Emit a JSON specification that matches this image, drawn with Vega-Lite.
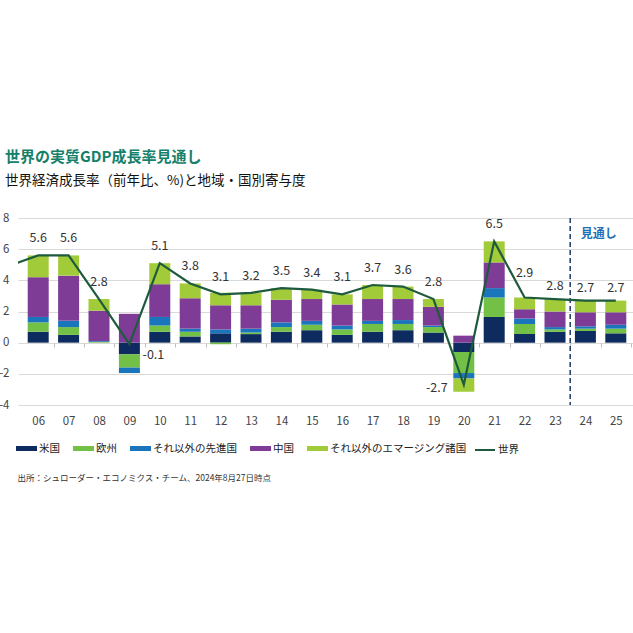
{
  "$schema": "https://vega.github.io/schema/vega-lite/v6.json",
  "width": 618,
  "height": 187,
  "autosize": {"type": "none"},
  "padding": {"left": 18, "top": 218, "right": 0, "bottom": 228},
  "background": "white",
  "config": {
    "view": {"stroke": null},
    "font": "Noto Sans CJK JP",
    "locale": {"number": {"decimal": ".", "thousands": ",", "grouping": [3], "currency": ["$", ""], "minus": "-"}}
  },
  "title": {
    "text": "世界の実質GDP成長率見通し",
    "subtitle": "世界経済成長率（前年比、%)と地域・国別寄与度",
    "anchor": "start",
    "frame": "group",
    "dx": -13,
    "offset": 25,
    "fontSize": 15,
    "fontWeight": "bold",
    "color": "#15806a",
    "subtitleFontSize": 13.5,
    "subtitleColor": "#111111",
    "subtitlePadding": 9,
    "font": "Noto Sans CJK JP",
    "subtitleFont": "Noto Sans CJK JP"
  },
  "datasets": {
    "parts": [
      {"year": 2006, "米国": 0.7, "欧州": 0.6, "それ以外の先進国": 0.35, "中国": 2.55, "それ以外のエマージング諸国": 1.4},
      {"year": 2007, "米国": 0.5, "欧州": 0.5, "それ以外の先進国": 0.4, "中国": 2.9, "それ以外のエマージング諸国": 1.3},
      {"year": 2008, "米国": 0.0, "欧州": 0.05, "それ以外の先進国": 0.05, "中国": 1.95, "それ以外のエマージング諸国": 0.75},
      {"year": 2009, "米国": -0.75, "欧州": -0.85, "それ以外の先進国": -0.35, "中国": 1.85, "それ以外のエマージング諸国": 0.0},
      {"year": 2010, "米国": 0.7, "欧州": 0.4, "それ以外の先進国": 0.55, "中国": 2.1, "それ以外のエマージング諸国": 1.35},
      {"year": 2011, "米国": 0.4, "欧州": 0.3, "それ以外の先進国": 0.2, "中国": 1.95, "それ以外のエマージング諸国": 0.95},
      {"year": 2012, "米国": 0.6, "欧州": -0.1, "それ以外の先進国": 0.25, "中国": 1.55, "それ以外のエマージング諸国": 0.8},
      {"year": 2013, "米国": 0.55, "欧州": 0.1, "それ以外の先進国": 0.25, "中国": 1.5, "それ以外のエマージング諸国": 0.8},
      {"year": 2014, "米国": 0.7, "欧州": 0.3, "それ以外の先進国": 0.3, "中国": 1.45, "それ以外のエマージング諸国": 0.75},
      {"year": 2015, "米国": 0.8, "欧州": 0.35, "それ以外の先進国": 0.25, "中国": 1.4, "それ以外のエマージング諸国": 0.6},
      {"year": 2016, "米国": 0.5, "欧州": 0.35, "それ以外の先進国": 0.25, "中国": 1.35, "それ以外のエマージング諸国": 0.65},
      {"year": 2017, "米国": 0.7, "欧州": 0.5, "それ以外の先進国": 0.2, "中国": 1.4, "それ以外のエマージング諸国": 0.9},
      {"year": 2018, "米国": 0.8, "欧州": 0.4, "それ以外の先進国": 0.25, "中国": 1.35, "それ以外のエマージング諸国": 0.8},
      {"year": 2019, "米国": 0.65, "欧州": 0.35, "それ以外の先進国": 0.1, "中国": 1.2, "それ以外のエマージング諸国": 0.5},
      {"year": 2020, "米国": -0.6, "欧州": -1.35, "それ以外の先進国": -0.35, "中国": 0.45, "それ以外のエマージング諸国": -0.85},
      {"year": 2021, "米国": 1.65, "欧州": 1.25, "それ以外の先進国": 0.6, "中国": 1.65, "それ以外のエマージング諸国": 1.35},
      {"year": 2022, "米国": 0.55, "欧州": 0.65, "それ以外の先進国": 0.35, "中国": 0.6, "それ以外のエマージング諸国": 0.75},
      {"year": 2023, "米国": 0.7, "欧州": 0.15, "それ以外の先進国": 0.15, "中国": 1.0, "それ以外のエマージング諸国": 0.8},
      {"year": 2024, "米国": 0.75, "欧州": 0.15, "それ以外の先進国": 0.15, "中国": 0.9, "それ以外のエマージング諸国": 0.75},
      {"year": 2025, "米国": 0.6, "欧州": 0.3, "それ以外の先進国": 0.25, "中国": 0.8, "それ以外のエマージング諸国": 0.75}
    ],
    "world": [
      {"year": 2005, "world": 4.9},
      {"year": 2006, "world": 5.6},
      {"year": 2007, "world": 5.6},
      {"year": 2008, "world": 2.8},
      {"year": 2009, "world": -0.1},
      {"year": 2010, "world": 5.1},
      {"year": 2011, "world": 3.8},
      {"year": 2012, "world": 3.1},
      {"year": 2013, "world": 3.2},
      {"year": 2014, "world": 3.5},
      {"year": 2015, "world": 3.4},
      {"year": 2016, "world": 3.1},
      {"year": 2017, "world": 3.7},
      {"year": 2018, "world": 3.6},
      {"year": 2019, "world": 2.8},
      {"year": 2020, "world": -2.7},
      {"year": 2021, "world": 6.5},
      {"year": 2022, "world": 2.9},
      {"year": 2023, "world": 2.8},
      {"year": 2024, "world": 2.7},
      {"year": 2025, "world": 2.7}
    ]
  },
  "layer": [
    {
      "data": {"name": "parts"},
      "transform": [
        {"fold": ["米国", "欧州", "それ以外の先進国", "中国", "それ以外のエマージング諸国"], "as": ["region", "value"]},
        {"stack": "value", "groupby": ["year"], "as": ["v0", "v1"]}
      ],
      "mark": {"type": "bar", "width": 21, "orient": "vertical"},
      "encoding": {
        "x": {
          "field": "year", "type": "quantitative",
          "scale": {"domain": [2005.5, 2025.5], "nice": false, "zero": false},
          "axis": {
            "values": [2006, 2007, 2008, 2009, 2010, 2011, 2012, 2013, 2014, 2015, 2016, 2017, 2018, 2019, 2020, 2021, 2022, 2023, 2024, 2025],
            "tickCount": 20,
            "format": "d",
            "labelExpr": "substring(datum.label, 2)",
            "tickOffset": 15.45,
            "labelOffset": -15.45,
            "tickSize": 4,
            "tickColor": "#bfbfbf",
            "domain": false,
            "grid": false,
            "offset": -62,
            "labelPadding": 68,
            "labelOverlap": false,
            "labelFlush": false,
            "labelFontSize": 11.5,
            "labelColor": "#444444",
            "title": "出所：シュローダー・エコノミクス・チーム、2024年8月27日時点",
            "titleX": -1,
            "titleY": 134,
            "titleAlign": "left",
            "titleAnchor": "start",
            "titleBaseline": "middle",
            "titleAngle": 0,
            "titleFontWeight": "normal",
            "titleFontSize": 8.5,
            "titleColor": "#333333"
          }
        },
        "y": {
          "field": "v0", "type": "quantitative",
          "scale": {"domain": [-4, 8], "nice": false},
          "axis": {
            "values": [-4, -2, 0, 2, 4, 6, 8],
            "tickCount": 7,
            "grid": true,
            "gridColor": "#d9d9d9",
            "domain": false,
            "ticks": false,
            "labelPadding": 9,
            "labelOverlap": false,
            "labelFlush": false,
            "labelFontSize": 11.5,
            "labelColor": "#444444",
            "title": null
          }
        },
        "y2": {"field": "v1"},
        "color": {
          "field": "region", "type": "nominal",
          "scale": {
            "domain": ["米国", "欧州", "それ以外の先進国", "中国", "それ以外のエマージング諸国"],
            "range": ["#0d2b5e", "#72c045", "#1b75bc", "#7e3c96", "#a2cb3a"]
          },
          "legend": {
            "orient": "none",
            "legendX": -2,
            "legendY": 220,
            "direction": "horizontal",
            "title": null,
            "symbolType": "M-1,-0.24L1,-0.24L1,0.24L-1,0.24Z",
            "symbolSize": 441,
            "symbolStrokeWidth": 0,
            "labelFontSize": 10.5,
            "labelColor": "#222222",
            "labelOffset": 2,
            "columnPadding": 13,
            "padding": 0
          }
        }
      }
    },
    {
      "data": {"values": [{}]},
      "mark": {"type": "rule", "strokeDash": [5, 3], "color": "#1f3a68", "strokeWidth": 1.5},
      "encoding": {"x": {"datum": 2023.5, "type": "quantitative"}}
    },
    {
      "data": {"name": "world"},
      "mark": {"type": "line", "clip": true, "strokeWidth": 2.2},
      "encoding": {
        "x": {"field": "year", "type": "quantitative"},
        "y": {"field": "world", "type": "quantitative"},
        "stroke": {
          "datum": "世界", "type": "nominal",
          "scale": {"domain": ["世界"], "range": ["#1e5b3d"]},
          "legend": {
            "orient": "none",
            "legendX": 456,
            "legendY": 221,
            "title": null,
            "symbolType": "stroke",
            "symbolSize": 400,
            "symbolStrokeWidth": 2,
            "labelFontSize": 10.5,
            "labelColor": "#222222",
            "labelOffset": 2,
            "padding": 0
          }
        }
      }
    },
    {
      "data": {"name": "world"},
      "transform": [{"filter": "datum.year >= 2006 && datum.year <= 2021 && datum.year != 2009 && datum.year != 2020"}],
      "mark": {"type": "text", "dy": -17, "fontSize": 12.5, "color": "#333333", "baseline": "middle"},
      "encoding": {
        "x": {"field": "year", "type": "quantitative"},
        "y": {"field": "world", "type": "quantitative"},
        "text": {"field": "world", "type": "quantitative", "format": ".1f"}
      }
    },
    {
      "data": {"name": "world"},
      "transform": [{"filter": "datum.year == 2022"}],
      "mark": {"type": "text", "dy": -24, "fontSize": 12.5, "color": "#333333", "baseline": "middle"},
      "encoding": {
        "x": {"field": "year", "type": "quantitative"},
        "y": {"field": "world", "type": "quantitative"},
        "text": {"field": "world", "type": "quantitative", "format": ".1f"}
      }
    },
    {
      "data": {"name": "world"},
      "transform": [{"filter": "datum.year >= 2023"}],
      "mark": {"type": "text", "dy": -13, "fontSize": 12.5, "color": "#333333", "baseline": "middle"},
      "encoding": {
        "x": {"field": "year", "type": "quantitative"},
        "y": {"field": "world", "type": "quantitative"},
        "text": {"field": "world", "type": "quantitative", "format": ".1f"}
      }
    },
    {
      "data": {"name": "world"},
      "transform": [{"filter": "datum.year == 2009"}],
      "mark": {"type": "text", "dx": 24, "dy": 11, "fontSize": 12.5, "color": "#333333", "baseline": "middle"},
      "encoding": {
        "x": {"field": "year", "type": "quantitative"},
        "y": {"field": "world", "type": "quantitative"},
        "text": {"field": "world", "type": "quantitative", "format": ".1f"}
      }
    },
    {
      "data": {"name": "world"},
      "transform": [{"filter": "datum.year == 2020"}],
      "mark": {"type": "text", "dx": -27, "dy": 3, "fontSize": 12.5, "color": "#333333", "baseline": "middle"},
      "encoding": {
        "x": {"field": "year", "type": "quantitative"},
        "y": {"field": "world", "type": "quantitative"},
        "text": {"field": "world", "type": "quantitative", "format": ".1f"}
      }
    },
    {
      "data": {"values": [{}]},
      "mark": {"type": "text", "align": "left", "baseline": "middle", "fontSize": 12, "fontWeight": "bold", "color": "#1f6fb8"},
      "encoding": {
        "x": {"datum": 2023.85, "type": "quantitative"},
        "y": {"datum": 7, "type": "quantitative"},
        "text": {"value": "見通し"}
      }
    }
  ]
}
